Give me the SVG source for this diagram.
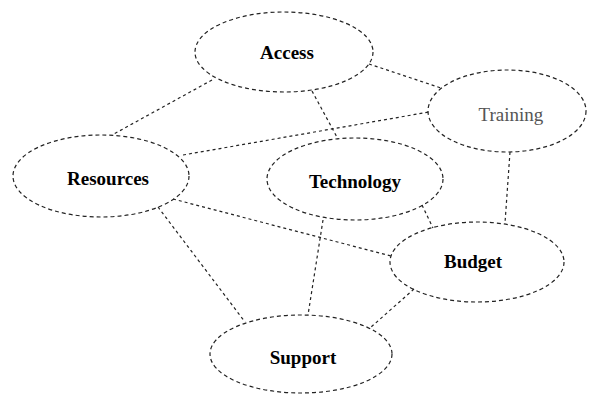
<svg xmlns="http://www.w3.org/2000/svg" width="602" height="395" viewBox="0 0 602 395">
  <style>
    .edge { stroke: #222222; stroke-width: 1.2; stroke-dasharray: 3 3; fill: none; }
    .node ellipse { stroke: #222222; stroke-width: 1.2; stroke-dasharray: 4 3; fill: none; }
    .node text { font-family: "Liberation Serif", "Times New Roman", serif; font-size: 19px; font-weight: bold; fill: #000; text-anchor: middle; }
    .node text.light { font-weight: normal; fill: #555; }
  </style>
  <rect width="602" height="395" fill="#ffffff"/>
  <g id="connectors">
    <line class="edge" x1="212" y1="80" x2="112" y2="135"/>
    <line class="edge" x1="312" y1="91" x2="338" y2="139"/>
    <line class="edge" x1="369" y1="64" x2="441" y2="88"/>
    <line class="edge" x1="183" y1="155" x2="429" y2="112"/>
    <line class="edge" x1="510" y1="152" x2="505" y2="223"/>
    <line class="edge" x1="422" y1="205" x2="433" y2="228"/>
    <line class="edge" x1="173" y1="199" x2="391" y2="256"/>
    <line class="edge" x1="158" y1="207" x2="245" y2="322"/>
    <line class="edge" x1="323" y1="220" x2="308" y2="315"/>
    <line class="edge" x1="414" y1="289" x2="370" y2="328"/>
  </g>
  <g id="node-access" class="node">
    <ellipse cx="284" cy="52" rx="89" ry="40"/>
    <text x="287" y="59">Access</text>
  </g>
  <g id="node-training" class="node">
    <ellipse cx="507" cy="111" rx="79" ry="41"/>
    <text class="light" x="511" y="121">Training</text>
  </g>
  <g id="node-resources" class="node">
    <ellipse cx="101" cy="176" rx="88" ry="41"/>
    <text x="108" y="185">Resources</text>
  </g>
  <g id="node-technology" class="node">
    <ellipse cx="355" cy="179" rx="88" ry="41"/>
    <text x="355" y="188">Technology</text>
  </g>
  <g id="node-budget" class="node">
    <ellipse cx="477" cy="262" rx="87" ry="40"/>
    <text x="473" y="268">Budget</text>
  </g>
  <g id="node-support" class="node">
    <ellipse cx="301" cy="354" rx="91" ry="39"/>
    <text x="303" y="364">Support</text>
  </g>
</svg>
